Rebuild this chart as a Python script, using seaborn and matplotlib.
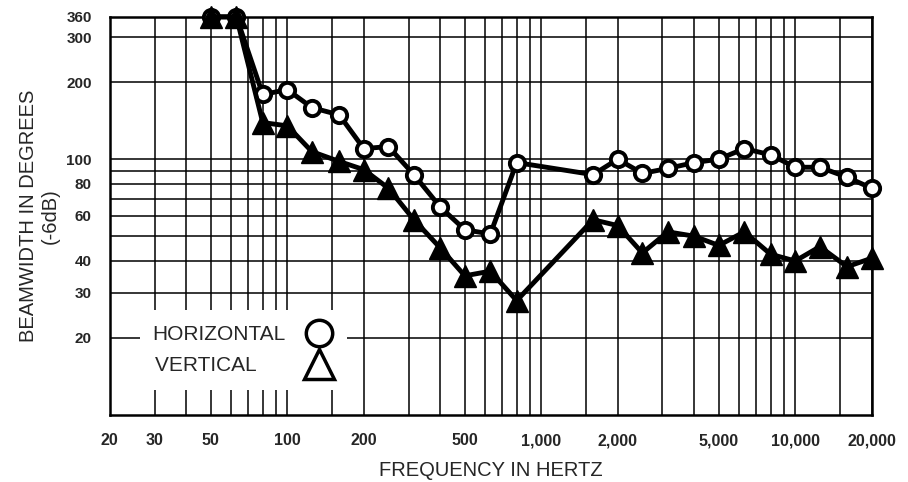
import matplotlib
matplotlib.use('Agg')
import matplotlib.pyplot as plt
import pandas as pd
import seaborn as sns
from matplotlib.lines import Line2D
from matplotlib.patches import Rectangle
from matplotlib.ticker import NullFormatter

# third-octave frequencies (Hz)
freq = [50, 63, 80, 100, 125, 160, 200, 250, 315, 400, 500, 630, 800,
        1600, 2000, 2500, 3150, 4000, 5000, 6300, 8000, 10000, 12500, 16000, 20000]
horizontal = [360, 360, 179, 187, 159, 149, 110, 112, 87, 65, 53, 51, 97,
              87, 100, 88, 92, 97, 100, 110, 104, 93, 93, 85, 77]
vertical = [360, 360, 139, 135, 107, 98, 91, 77, 58, 45, 35, 36.5, 28,
            58, 55, 43, 52, 50, 46, 52, 42.5, 40, 45.5, 38, 41]

xtick_vals = [20, 30, 50, 100, 200, 500, 1000, 2000, 5000, 10000, 20000]
xtick_labels = ['20', '30', '50', '100', '200', '500', '1,000', '2,000', '5,000', '10,000', '20,000']
xgrid = [40, 60, 70, 80, 90, 150, 300, 400, 600, 700, 800, 900, 1500,
         3000, 4000, 6000, 7000, 8000, 9000, 15000]
ytick_vals = [20, 30, 40, 60, 80, 100, 200, 300, 360]
ytick_labels = ['20', '30', '40', '60', '80', '100', '200', '300', '360']
ygrid = [50, 70, 90]

df = pd.DataFrame({
    'freq': freq * 2,
    'beamwidth': horizontal + vertical,
    'orientation': ['HORIZONTAL'] * len(freq) + ['VERTICAL'] * len(freq),
})

sns.set_theme(style='white')
plt.rcParams['font.family'] = ['Liberation Sans', 'DejaVu Sans']
tick_font = ['Liberation Sans Narrow', 'Liberation Sans', 'DejaVu Sans']

fig, ax = plt.subplots(figsize=(9.08, 4.82), dpi=100)
fig.subplots_adjust(left=0.121, right=0.960, bottom=0.139, top=0.965)

sns.lineplot(data=df[df['orientation'] == 'HORIZONTAL'], x='freq', y='beamwidth', ax=ax,
             color='black', lw=3.5, marker='o', ms=11, mfc='white', mec='black', mew=2.8,
             clip_on=False, zorder=3)
sns.lineplot(data=df[df['orientation'] == 'VERTICAL'], x='freq', y='beamwidth', ax=ax,
             color='black', lw=3.5, marker='^', ms=16.5, mfc='black', mec='black', mew=1,
             clip_on=False, zorder=4)

ax.set_xscale('log')
ax.set_yscale('log')
ax.set_xlim(20, 20000)
ax.set_ylim(10, 360)

ax.set_xticks(xtick_vals, labels=xtick_labels, fontweight='bold', family=tick_font, fontsize=11.5)
ax.set_xticks(xgrid, minor=True)
ax.set_yticks(ytick_vals, labels=ytick_labels, fontweight='bold', family=tick_font, fontsize=11)
ax.set_yticks(ygrid, minor=True)
ax.xaxis.set_minor_formatter(NullFormatter())
ax.yaxis.set_minor_formatter(NullFormatter())
ax.tick_params(which='both', length=0)
ax.tick_params(axis='x', pad=13)
ax.tick_params(axis='y', pad=13)
ax.grid(which='both', color='black', lw=1.1)
for sp in ax.spines.values():
    sp.set_color('black')
    sp.set_linewidth(1.8)

# blank patch behind the legend, the grid is interrupted there
ax.add_patch(Rectangle((0.039, 0.063), 0.272, 0.201, transform=ax.transAxes,
                       facecolor='white', edgecolor='none', zorder=2))
handles = [
    Line2D([], [], ls='none', marker='o', ms=19, mfc='white', mec='black', mew=2.5),
    Line2D([], [], ls='none', marker='^', ms=21, mfc='white', mec='black', mew=2.5),
]
# trailing spaces keep the two labels left aligned with markers stacked on the right
ax.legend(handles, ['HORIZONTAL', 'VERTICAL     '], loc='center left', bbox_to_anchor=(0.055, 0.163),
          frameon=False, markerfirst=False, fontsize=15, handlelength=1.5,
          handletextpad=0.9, labelspacing=0.6, borderpad=0, borderaxespad=0)

ax.set_xlabel('FREQUENCY IN HERTZ', fontsize=14.5, labelpad=9)
ax.set_ylabel('BEAMWIDTH IN DEGREES\n(-6dB)', fontsize=14.5, labelpad=5, linespacing=1.15)

fig.savefig('out.png', dpi=100)
